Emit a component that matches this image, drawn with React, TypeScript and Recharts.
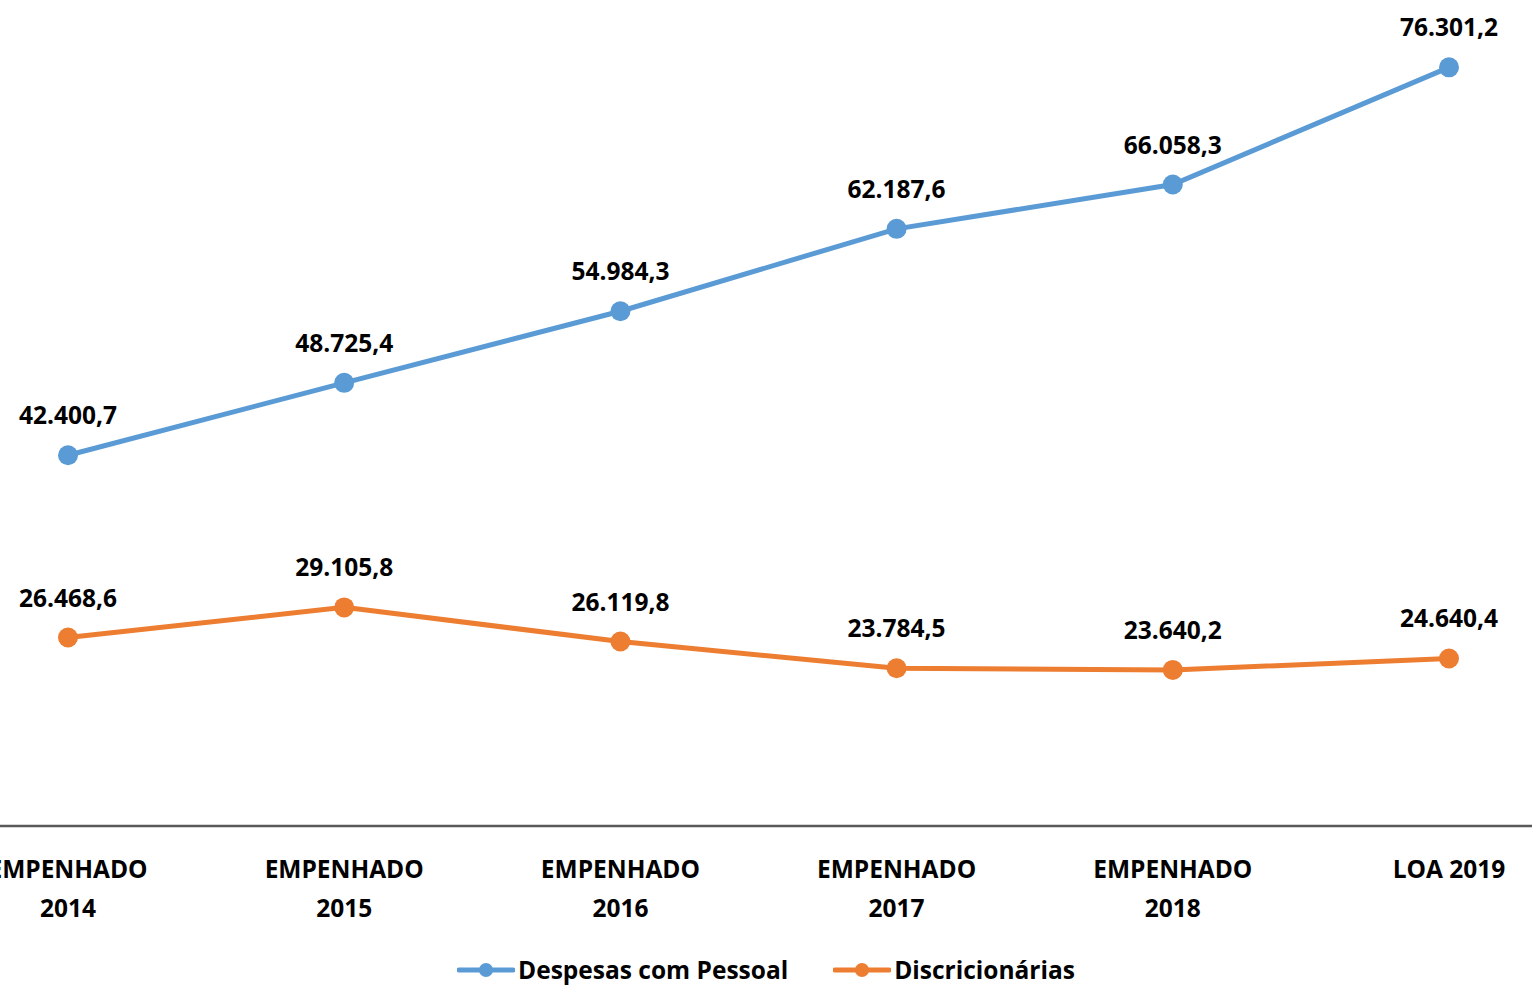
import { LineChart, Line, XAxis, YAxis, Legend, LabelList } from "recharts";

const categories = [
  "EMPENHADO 2014",
  "EMPENHADO 2015",
  "EMPENHADO 2016",
  "EMPENHADO 2017",
  "EMPENHADO 2018",
  "LOA 2019",
];
const pessoal = [42400.7, 48725.4, 54984.3, 62187.6, 66058.3, 76301.2];
const discricionarias = [26468.6, 29105.8, 26119.8, 23784.5, 23640.2, 24640.4];

const series = [
  { key: "pessoal", name: "Despesas com Pessoal", color: "#5B9BD5" },
  { key: "discricionarias", name: "Discricionárias", color: "#ED7D31" },
];

const FONT = "'Open Sans', sans-serif";

// 42400.7 -> "42.400,7"
const fmt = (v: number) => {
  const [i, d] = v.toFixed(1).split(".");
  return i.replace(/\B(?=(\d{3})+(?!\d))/g, ".") + "," + d;
};

const data = categories.map((c, i) => ({
  name: c,
  pessoal: pessoal[i],
  discricionarias: discricionarias[i],
}));

const Tick = (props: any) => {
  const { x, y, payload } = props;
  const value: string = payload.value;
  const lines = value.startsWith("EMPENHADO") ? value.split(" ") : [value];
  return (
    <g>
      {lines.map((l, i) => (
        <text
          key={i}
          x={x}
          y={y + 42 + i * 39}
          textAnchor="middle"
          dominantBaseline="central"
          fill="#000"
          fontSize={24.5}
          fontWeight={700}
          fontFamily={FONT}
        >
          {l}
        </text>
      ))}
    </g>
  );
};

const LegendContent = () => (
  <div
    style={{
      height: 63,
      display: "flex",
      justifyContent: "center",
      alignItems: "flex-start",
      paddingTop: 30,
      boxSizing: "border-box",
      fontFamily: FONT,
      fontWeight: 700,
      fontSize: 24.5,
      color: "#000",
    }}
  >
    {series.map((s, i) => (
      <div
        key={s.key}
        style={{ display: "flex", alignItems: "center", marginLeft: i ? 45 : 0, marginRight: 0 }}
      >
        <svg width={58} height={20} style={{ marginRight: 3 }}>
          <line x1={2} y1={10} x2={56} y2={10} stroke={s.color} strokeWidth={5} strokeLinecap="round" />
          <circle cx={29} cy={10} r={7} fill={s.color} />
        </svg>
        <span style={{ lineHeight: "28px" }}>{s.name}</span>
      </div>
    ))}
  </div>
);

export default function App() {
  return (
    <div style={{ position: "absolute", left: 0, top: 0, width: 1532, height: 989, overflow: "hidden", background: "#fff" }}>
      <LineChart width={1532} height={989} data={data} margin={{ top: 25, right: 0, left: 0, bottom: 0 }}>
        <XAxis
          dataKey="name"
          padding={{ left: 68, right: 83 }}
          axisLine={{ stroke: "#595959", strokeWidth: 2.5 }}
          tickLine={false}
          tickSize={0}
          tickMargin={0}
          height={100}
          interval={0}
          tick={<Tick />}
        />
        <YAxis hide domain={[10000, 80000]} />
        <Legend verticalAlign="bottom" content={<LegendContent />} />
        {series.map((s) => (
          <Line
            key={s.key}
            dataKey={s.key}
            name={s.name}
            stroke={s.color}
            strokeWidth={5}
            dot={{ r: 10, fill: s.color, stroke: s.color, strokeWidth: 0 }}
            activeDot={false}
            isAnimationActive={false}
          >
            <LabelList
              dataKey={s.key}
              position="top"
              offset={31}
              formatter={(v: any) => fmt(Number(v))}
              fill="#000"
              fontSize={24.5}
              fontWeight={700}
              fontFamily={FONT}
            />
          </Line>
        ))}
      </LineChart>
    </div>
  );
}
